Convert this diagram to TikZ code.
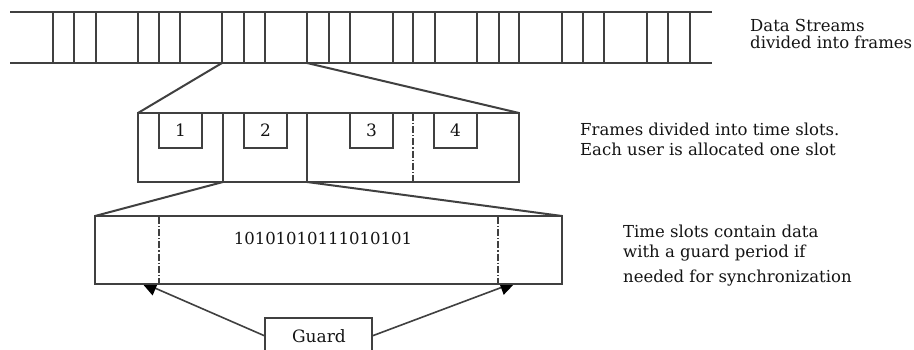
\documentclass[tikz,border=0pt]{standalone}
\usepackage{fontspec}
\setmainfont{DejaVu Serif}
\usetikzlibrary{arrows.meta}
\definecolor{linecol}{gray}{0.25}
\definecolor{txtcol}{gray}{0.08}
\begin{document}
\begin{tikzpicture}[x=1pt,y=-1pt,
  ln/.style={draw=linecol,line width=2pt},
  box/.style={ln,fill=white,inner sep=0pt,outer sep=0pt,anchor=north west},
  dd/.style={draw=linecol,line width=1.6pt,dash pattern=on 7pt off 2pt on 1.2pt off 2pt},
  lbl/.style={font=\fontsize{16.5}{18}\selectfont,text=txtcol,anchor=base west,inner sep=0pt},
  num/.style={font=\fontsize{17}{18}\selectfont,text=txtcol},
  arr/.style={draw=linecol,line width=1.6pt,-{Triangle[length=16pt,width=15pt,color=black]}}]
\useasboundingbox (0,0) rectangle (914,350);
\clip (0,0) rectangle (914,350);
\fill[white] (0,0) rectangle (914,350);
% data stream
\node[inner sep=0pt,outer sep=0pt,minimum width=702pt,minimum height=51pt,anchor=north west] (stream) at (10,12) {};
\draw[ln] (stream.north west) -- (stream.north east);
\draw[ln] (stream.south west) -- (stream.south east);
\foreach \x in {53,74,96,138,159,180,222,244,265,307,329,350,393,413,435,477,499,519,562,583,604,647,668,690}{
  \draw[ln] (\x,12) -- (\x,63);
}
\coordinate (s1) at (222,63);
\coordinate (s2) at (307,63);
% frame
\node[box,minimum width=381pt,minimum height=69pt] (frame) at (138,113) {};
\coordinate (f1t) at (223,113); \coordinate (f1) at (223,182);
\coordinate (f2t) at (307,113); \coordinate (f2) at (307,182);
\draw[ln] (f1t) -- (f1);
\draw[ln] (f2t) -- (f2);
\coordinate (f3t) at (413,114); \coordinate (f3) at (413,182);
\draw[dd] (f3t) -- (f3);
\node[box,minimum width=43pt,minimum height=35pt] (b1) at (159,113) {};
\node[box,minimum width=43pt,minimum height=35pt] (b2) at (244,113) {};
\node[box,minimum width=43pt,minimum height=35pt] (b3) at (350,113) {};
\node[box,minimum width=43pt,minimum height=35pt] (b4) at (434,113) {};
\node[num] at (b1.center) {1};
\node[num] at (b2.center) {2};
\node[num] at (b3.center) {3};
\node[num] at (b4.center) {4};
\draw[ln] (s1) -- (frame.north west);
\draw[ln] (s2) -- (frame.north east);
% arrows from guard (drawn before slot box)
\node[box,minimum width=107pt,minimum height=36pt] (guard) at (265,318) {};
\node[num] at (319,336) {Guard};
\coordinate (g1) at (141,282);
\coordinate (g2) at (516,282);
\draw[arr] (guard.west) -- (g1);
\draw[arr] (guard.east) -- (g2);
% slot
\node[box,minimum width=467pt,minimum height=68pt] (slot) at (95,216) {};
\draw[dd] (159,217) -- (159,284);
\draw[dd] (498,217) -- (498,284);
\node[num,font=\fontsize{16.5}{18}\selectfont] at (323,238) {10101010111010101};
\draw[ln] (f1) -- (slot.north west);
\draw[ln] (f2) -- (slot.north east);
% labels
\node[lbl] (l1a) at (750,32) {Data Streams};
\node[lbl] (l1b) at (750,49) {divided into frames};
\node[lbl] (l2a) at (580,136) {Frames divided into time slots.};
\node[lbl] (l2b) at (580,156) {Each user is allocated one slot};
\node[lbl] (l3a) at (623,238) {Time slots contain data};
\node[lbl] (l3b) at (623,258) {with a guard period if};
\node[lbl] (l3c) at (623,282) {needed for synchronization};
\end{tikzpicture}
\end{document}
